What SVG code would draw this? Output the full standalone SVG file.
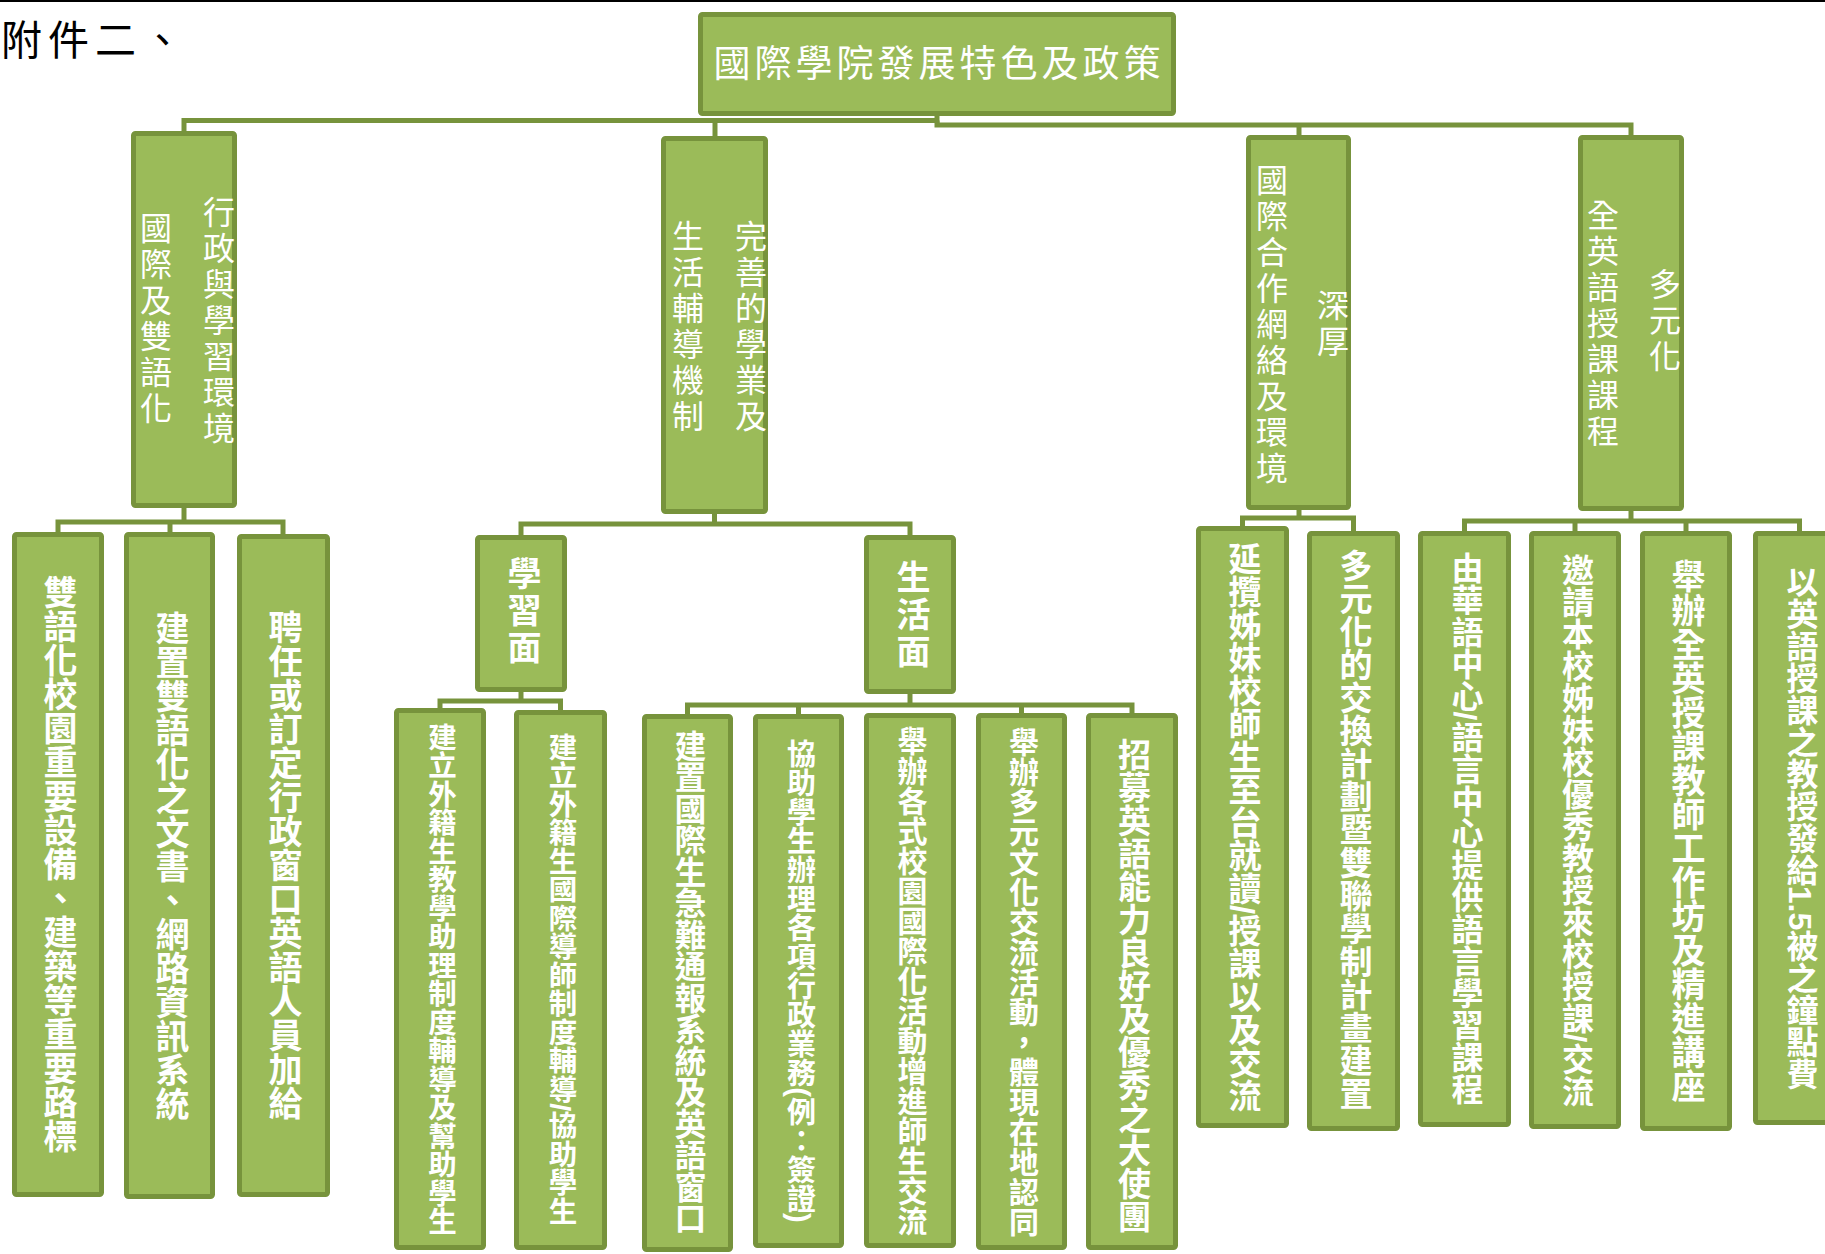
<svg xmlns="http://www.w3.org/2000/svg" width="1825" height="1254" viewBox="0 0 1825 1254">
<style>
.box{fill:#9bbb59;stroke:#77933c;stroke-width:5}
.conn{fill:none;stroke:#77933c;stroke-width:5}
.t{fill:#fff;font-family:'Liberation Sans','Noto Sans CJK TC',sans-serif}
.v{writing-mode:vertical-rl;text-anchor:middle}
.l1{font-size:32px;letter-spacing:4px}
.b{font-weight:700}
</style>
<rect width="1825" height="1254" fill="#fff"/>
<line x1="0" y1="1" x2="1825" y2="1" stroke="#000" stroke-width="2"/>
<text x="1" y="55" font-size="41" letter-spacing="6" fill="#000" font-family="'Liberation Serif','Noto Sans CJK TC',serif">附件二、</text>

<g id="connectors" class="conn">
<path d="M937,116 V120.5 H184 V131"/>
<path d="M715,120.5 V136"/>
<path d="M937,120.5 V125 H1631 V135"/>
<path d="M1299,125 V135"/>
<path d="M184,508 V522"/>
<path d="M58,532 V522 H283 V534"/>
<path d="M170,522 V532"/>
<path d="M714.5,514 V524"/>
<path d="M521,535 V524 H910 V535"/>
<path d="M521,692 V701"/>
<path d="M440,708 V701 H560.5 V710"/>
<path d="M910,694 V705"/>
<path d="M687.5,714 V705 H1132 V713"/>
<path d="M798.5,705 V714"/>
<path d="M1021.5,705 V713"/>
<path d="M1299,510 V518"/>
<path d="M1242.5,526 V518 H1353.5 V531"/>
<path d="M1631,511 V521"/>
<path d="M1464.5,531 V521 H1799.5 V531"/>
<path d="M1575,521 V531"/>
<path d="M1686,521 V531"/>
</g>

<g id="root">
<rect class="box" x="700.5" y="14.5" width="473" height="99" rx="2"/>
<text class="t" x="939" y="64" font-size="37" letter-spacing="4" text-anchor="middle" dominant-baseline="central">國際學院發展特色及政策</text>
</g>

<g id="nodeA">
<rect class="box" x="133.5" y="133.5" width="101" height="372" rx="2"/>
<text class="t v l1" x="216" y="322">行政與學習環境</text>
<text class="t v l1" x="153" y="320">國際及雙語化</text>
</g>
<g id="nodeB">
<rect class="box" x="663.5" y="138.5" width="102" height="373" rx="2"/>
<text class="t v l1" x="748" y="328">完善的學業及</text>
<text class="t v l1" x="685" y="328">生活輔導機制</text>
</g>
<g id="nodeC">
<rect class="box" x="1248.5" y="137.5" width="100" height="370" rx="2"/>
<text class="t v l1" x="1330" y="325">深厚</text>
<text class="t v l1" x="1269" y="326">國際合作網絡及環境</text>
</g>
<g id="nodeD">
<rect class="box" x="1580.5" y="137.5" width="101" height="371" rx="2"/>
<text class="t v l1" x="1662" y="322">多元化</text>
<text class="t v l1" x="1600" y="325">全英語授課課程</text>
</g>

<g id="nodeA1">
<rect class="box" x="14.5" y="534.5" width="87" height="660" rx="2"/>
<text class="t v b" x="58" y="864" font-size="34">雙語化校園重要設備、建築等重要路標</text>
</g>
<g id="nodeA2">
<rect class="box" x="126.5" y="534.5" width="86" height="662" rx="2"/>
<text class="t v b" x="170" y="866" font-size="34">建置雙語化之文書、網路資訊系統</text>
</g>
<g id="nodeA3">
<rect class="box" x="239.5" y="536.5" width="88" height="658" rx="2"/>
<text class="t v b" x="283" y="865" font-size="34">聘任或訂定行政窗口英語人員加給</text>
</g>

<g id="nodeL">
<rect class="box" x="477.5" y="537.5" width="87" height="152" rx="2"/>
<text class="t v b" x="522" y="612" font-size="34" letter-spacing="3">學習面</text>
</g>
<g id="nodeS">
<rect class="box" x="866.5" y="537.5" width="87" height="154" rx="2"/>
<text class="t v b" x="911" y="616" font-size="34" letter-spacing="3">生活面</text>
</g>

<g id="nodeL1">
<rect class="box" x="396.5" y="710.5" width="87" height="537" rx="2"/>
<text class="t v b" x="440" y="979" font-size="28.5">建立外籍生教學助理制度輔導及幫助學生</text>
</g>
<g id="nodeL2">
<rect class="box" x="516.5" y="712.5" width="88" height="535" rx="2"/>
<text class="t v b" x="560.5" y="979" font-size="28.5">建立外籍生國際導師制度輔導/協助學生</text>
</g>

<g id="nodeS1">
<rect class="box" x="644.5" y="716.5" width="86" height="533" rx="2"/>
<text class="t v b" x="687.5" y="982" font-size="31.5">建置國際生急難通報系統及英語窗口</text>
</g>
<g id="nodeS2">
<rect class="box" x="755.5" y="716.5" width="86" height="529" rx="2"/>
<text class="t v b" x="798.5" y="981" font-size="29">協助學生辦理各項行政業務(例：簽證)</text>
</g>
<g id="nodeS3">
<rect class="box" x="866.5" y="715.5" width="87" height="530" rx="2"/>
<text class="t v b" x="910" y="981" font-size="30">舉辦各式校園國際化活動增進師生交流</text>
</g>
<g id="nodeS4">
<rect class="box" x="978.5" y="715.5" width="86" height="532" rx="2"/>
<text class="t v b" x="1021.5" y="982" font-size="30">舉辦多元文化交流活動，體現在地認同</text>
</g>
<g id="nodeS5">
<rect class="box" x="1088.5" y="715.5" width="87" height="532" rx="2"/>
<text class="t v b" x="1132" y="985" font-size="33">招募英語能力良好及優秀之大使團</text>
</g>

<g id="nodeC1">
<rect class="box" x="1198.5" y="528.5" width="88" height="597" rx="2"/>
<text class="t v b" x="1242.5" y="827" font-size="33">延攬姊妹校師生至台就讀/授課以及交流</text>
</g>
<g id="nodeC2">
<rect class="box" x="1309.5" y="533.5" width="88" height="595" rx="2"/>
<text class="t v b" x="1353.5" y="829" font-size="33">多元化的交換計劃暨雙聯學制計畫建置</text>
</g>

<g id="nodeD1">
<rect class="box" x="1420.5" y="533.5" width="88" height="591" rx="2"/>
<text class="t v b" x="1464.5" y="828" font-size="32">由華語中心/語言中心提供語言學習課程</text>
</g>
<g id="nodeD2">
<rect class="box" x="1531.5" y="533.5" width="87" height="593" rx="2"/>
<text class="t v b" x="1575" y="830" font-size="32">邀請本校姊妹校優秀教授來校授課/交流</text>
</g>
<g id="nodeD3">
<rect class="box" x="1642.5" y="533.5" width="87" height="595" rx="2"/>
<text class="t v b" x="1686" y="831" font-size="34">舉辦全英授課教師工作坊及精進講座</text>
</g>
<g id="nodeD4">
<rect class="box" x="1755.5" y="533.5" width="88" height="589" rx="2"/>
<text class="t v b" x="1799.5" y="828" font-size="32">以英語授課之教授發給1.5被之鐘點費</text>
</g>
</svg>
